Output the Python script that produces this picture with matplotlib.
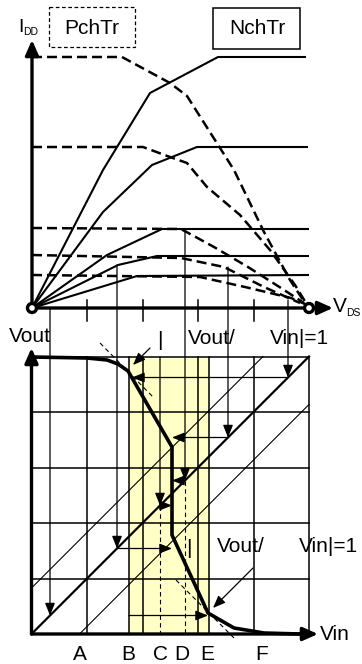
import matplotlib.pyplot as plt
from matplotlib.patches import Circle, Rectangle

plt.rcParams['font.family'] = ['Liberation Sans', 'DejaVu Sans']

W, H = 362, 664
FS = 15

# ---- I_DD - V_DS chart (pixel coordinates, y grows downward) ----
origin = (32, 308)
vdd_end = (309, 308)
ticks_x = [87, 142.5, 198, 253.5]

nch_curves = [
    [(32, 308), (103, 170), (150, 93), (218, 57), (306, 57)],
    [(32, 308), (103, 212), (152, 165), (197, 147), (308, 147)],
    [(32, 308), (107, 255), (162, 229), (309, 229)],
    [(32, 308), (118, 265), (157, 256), (309, 256)],
    [(32, 308), (137, 276), (309, 275)],
]
pch_curves = [
    [(32, 57), (122, 57), (170, 83), (187, 96), (234, 170), (264, 232), (290, 280), (305, 303)],
    [(32, 147), (143, 147), (170, 157), (187, 163), (207, 187), (240, 215), (270, 250), (295, 285), (306, 303)],
    [(32, 228), (181, 229), (214, 247), (248, 267), (281, 288), (304, 303)],
    [(32, 255), (181, 258), (224, 267), (264, 287), (300, 303)],
    [(32, 275), (200, 277), (245, 287), (291, 298), (305, 304)],
]

# ---- Vout - Vin chart ----
grid_x = [31.5, 87, 142.5, 198, 253.5, 309]
grid_y = [634, 578.5, 523, 467.5, 412, 356.5]
band = (129, 209)
vin_labels = ['A', 'B', 'C', 'D', 'E', 'F']
vin_label_x = [80, 128, 160, 182, 207, 262]

transfer = [(31.5, 357), (87, 358), (107, 360), (118, 364), (128, 371), (172, 447),
            (172, 535), (208, 613), (234, 628), (264, 633), (300, 634)]

# operating points: V_DS where it is read off, top of the drop line,
# start and end of the horizontal transfer arrow
drop_x = [50, 117, 160, 185, 228, 288]
drop_top = [308, 265, 357, 230, 267, 300]
run_from = [129, 117, 160, 185, 228, 288]
hit_x = [208, 172, 172, 172, 172, 132]
dashed_down = [160, 185]

diag_offsets = [-46, 0, 48]   # Vout = Vin + c lines


def diag_y(x, c=0):
    return grid_y[0] - (x - grid_x[0]) + c


def poly(ax, pts, **kw):
    xs, ys = zip(*pts)
    ax.plot(xs, ys, color='k', solid_capstyle='butt', **kw)


def arrow(ax, p0, p1, lw=1.0, hl=0.75, hw=0.3, scale=10):
    ax.annotate('', xy=p1, xytext=p0,
                arrowprops=dict(arrowstyle=f'-|>,head_length={hl},head_width={hw}',
                                lw=lw, color='k', shrinkA=0, shrinkB=0,
                                mutation_scale=scale))


fig = plt.figure(figsize=(W / 100, H / 100), dpi=100)
ax = fig.add_axes([0, 0, 1, 1])
ax.set_xlim(0, W)
ax.set_ylim(H, 0)
ax.axis('off')

# top chart
for pts in pch_curves:
    poly(ax, pts, lw=1.8, dashes=(4, 2))
for pts in nch_curves:
    poly(ax, pts, lw=1.5)
for x in ticks_x:
    ax.plot([x, x], [300, 321], color='k', lw=1.1)
arrow(ax, origin, (32, 40), lw=2.4, hl=0.9, hw=0.4)
arrow(ax, origin, (333, 308), lw=2.4, hl=0.9, hw=0.4)
for c in (origin, vdd_end):
    ax.add_patch(Circle(c, 4.5, fc='white', ec='k', lw=2.4, zorder=5))

ax.text(18, 27, 'I', fontsize=14, ha='left', va='center')
ax.text(23, 32, 'DD', fontsize=7.5, ha='left', va='center')
ax.text(333, 306, 'V', fontsize=FS, ha='left', va='center')
ax.text(346, 313, 'DS', fontsize=7.5, ha='left', va='center')
ax.add_patch(Rectangle((49, 7), 86, 40, fc='none', ec='k', lw=0.9, ls=(0, (3, 2))))
ax.text(92, 28, 'PchTr', fontsize=FS, ha='center', va='center')
ax.add_patch(Rectangle((213, 8), 87, 41, fc='none', ec='k', lw=1.1))
ax.text(257, 29, 'NchTr', fontsize=FS, ha='center', va='center')

# lower chart
ax.add_patch(Rectangle((band[0], grid_y[-1]), band[1] - band[0], grid_y[0] - grid_y[-1],
                       fc='#ffffc6', ec='none', zorder=0))
for x in grid_x[1:] + list(band):
    ax.plot([x, x], [grid_y[-1], grid_y[0]], color='k', lw=1.1)
for y in grid_y[1:]:
    ax.plot([grid_x[0], grid_x[-1]], [y, y], color='k', lw=1.1)

for c in diag_offsets:
    x0 = max(grid_x[0], grid_x[0] + c)
    x1 = min(grid_x[-1], grid_x[-1] + c)
    ax.plot([x0, x1], [diag_y(x0, c), diag_y(x1, c)], color='k',
            lw=1.6 if c == 0 else 0.8)

for x, top, x0, hx in zip(drop_x, drop_top, run_from, hit_x):
    y = diag_y(x)
    arrow(ax, (x, top), (x, y), lw=0.9)
    arrow(ax, (x0, y), (hx, y), lw=0.9)
for x in dashed_down:
    ax.plot([x, x], [diag_y(x), grid_y[0]], color='k', lw=0.8, dashes=(4, 3))

poly(ax, transfer, lw=2.6, zorder=4)
arrow(ax, (grid_x[0], grid_y[0]), (31.5, 348), lw=2.4, hl=0.9, hw=0.4)
arrow(ax, (grid_x[0], grid_y[0]), (318, 634), lw=2.4, hl=0.9, hw=0.4)

# |dVout/dVin| = 1 points
ax.plot([100, 153], [343, 397], color='k', lw=0.8, dashes=(4, 3))
ax.plot([176, 234], [580, 638], color='k', lw=0.8, dashes=(4, 3))
arrow(ax, (150, 348), (133, 365), lw=0.9)
arrow(ax, (253, 568), (213, 608), lw=0.9)

for x, y in [(160, 341), (189, 549)]:
    ax.text(x, y, '|', fontsize=FS, ha='center', va='center')
    ax.text(x + 52, y - 3, 'Vout/', fontsize=FS, ha='center', va='center')
    ax.text(x + 139, y - 3, 'Vin|=1', fontsize=FS, ha='center', va='center')

ax.text(30, 336, 'Vout', fontsize=FS, ha='center', va='center')
ax.text(320, 635, 'Vin', fontsize=FS, ha='left', va='center')
for lab, x in zip(vin_labels, vin_label_x):
    ax.text(x, 654, lab, fontsize=FS, ha='center', va='center')

fig.savefig('out.png', dpi=100)
